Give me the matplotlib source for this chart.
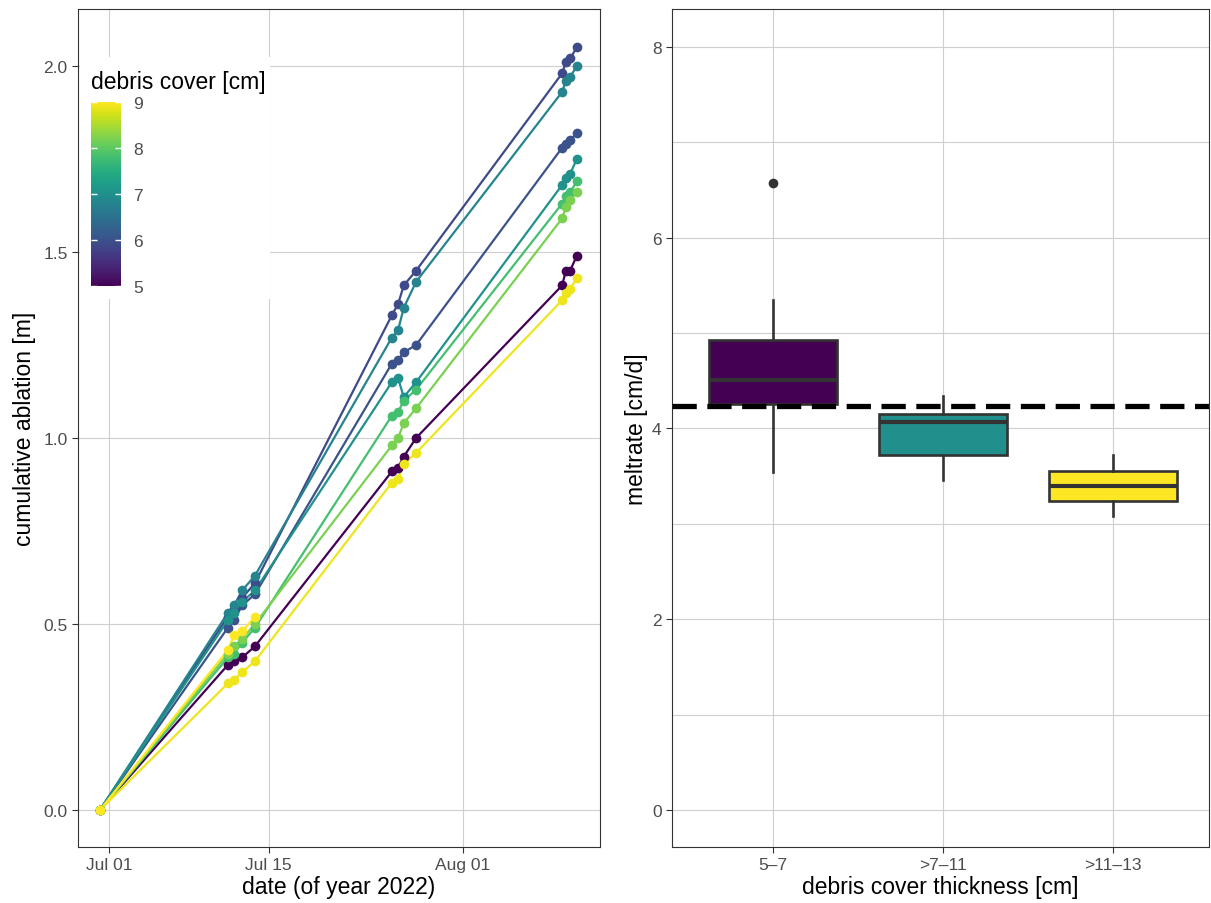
import numpy as np
import pandas as pd
import matplotlib
matplotlib.use("Agg")
import matplotlib.pyplot as plt
import matplotlib.dates as mdates
from matplotlib.colors import Normalize
from matplotlib.patches import Rectangle

plt.rcParams['font.family'] = ['Liberation Sans', 'DejaVu Sans']

# ---------------- data: left panel ----------------
times = pd.to_datetime([
    "2022-06-30 05:00",
    "2022-07-11 10:00", "2022-07-11 23:00", "2022-07-12 16:00", "2022-07-13 19:00",
    "2022-07-25 19:00", "2022-07-26 08:00", "2022-07-26 20:00", "2022-07-27 22:00",
    "2022-08-09 17:00", "2022-08-10 01:00", "2022-08-10 10:00", "2022-08-11 00:00",
])
debris_cover = [5.9, 6.8, 6.0, 7.0, 7.8, 8.2, 5.0, 9.0, 8.9]
nan = np.nan
ablation = [
    [0, 0.52, 0.54, 0.57, 0.61, 1.33, 1.36, 1.41, 1.45, 1.98, 2.01, 2.02, 2.05],
    [0, 0.53, 0.55, 0.59, 0.63, 1.27, 1.29, 1.35, 1.42, 1.93, 1.96, 1.97, 2.00],
    [0, 0.49, 0.51, 0.55, 0.58, 1.20, 1.21, 1.23, 1.25, 1.78, 1.79, 1.80, 1.82],
    [0, 0.51, 0.53, 0.56, 0.59, 1.15, 1.16, 1.11, 1.15, 1.68, 1.70, 1.71, 1.75],
    [0, 0.41, 0.42, 0.45, 0.49, 1.06, 1.07, 1.10, 1.13, 1.63, 1.65, 1.66, 1.69],
    [0, 0.42, 0.44, 0.46, 0.50, 0.98, 1.00, 1.04, 1.08, 1.59, 1.62, 1.64, 1.66],
    [0, 0.39, 0.40, 0.41, 0.44, 0.91, 0.92, 0.95, 1.00, 1.41, 1.45, 1.45, 1.49],
    [0, 0.43, 0.47, 0.48, 0.52, nan, nan, nan, nan, nan, nan, nan, nan],
    [0, 0.34, 0.35, 0.37, 0.40, 0.88, 0.89, 0.93, 0.96, 1.37, 1.39, 1.40, 1.43],
]
x_tick_dates = pd.to_datetime(["2022-07-01", "2022-07-15", "2022-08-01"])
y_ticks_left = [0.0, 0.5, 1.0, 1.5, 2.0]
cbar_ticks = [5, 6, 7, 8, 9]

# ---------------- data: right panel ----------------
categories = ["5–7", ">7–11", ">11–13"]
box_q1 = [4.26, 3.72, 3.24]
box_med = [4.51, 4.07, 3.40]
box_q3 = [4.93, 4.15, 3.55]
box_wlo = [3.54, 3.46, 3.08]
box_whi = [5.35, 4.34, 3.72]
box_outliers = [[6.57], [], []]
box_fill = ["#440154", "#21908C", "#FDE725"]
mean_meltrate = 4.23
y_ticks_right = [0, 2, 4, 6, 8]

# ---------------- figure ----------------
fig = plt.figure(figsize=(12.11, 9.04), dpi=100)
W, H = 1211, 904
def ax_rect(x0, y0, x1, y1):
    return [x0 / W, 1 - y1 / H, (x1 - x0) / W, (y1 - y0) / H]

grid_col = "#cfcfcf"
tick_col = "#4d4d4d"
border_col = "#333333"
TICK_FS = 12.5
TITLE_FS = 16.5

# ---- left panel ----
ax = fig.add_axes(ax_rect(78, 10, 600, 848))
cmap = plt.get_cmap("viridis")
norm = Normalize(5, 9)
tnum = mdates.date2num(times)
order = np.argsort(debris_cover)
for i in order:
    c = cmap(norm(debris_cover[i]))
    ax.plot(tnum, ablation[i], color=c, lw=1.6, zorder=2)
for i in order:
    c = cmap(norm(debris_cover[i]))
    ax.plot(tnum, ablation[i], 'o', color=c, ms=7, mec='none', zorder=3)

d0 = mdates.date2num(pd.Timestamp("2022-07-01"))
ax.set_xlim(d0 - 2.72, d0 + 43.03)
ax.set_ylim(-0.0995, 2.153)
ax.set_xticks(mdates.date2num(x_tick_dates))
ax.xaxis.set_major_formatter(mdates.DateFormatter("%b %d"))
ax.set_yticks(y_ticks_left)
ax.set_yticklabels([f"{v:.1f}" for v in y_ticks_left])
ax.grid(True, color=grid_col, lw=0.8, zorder=0)
ax.set_axisbelow(True)
ax.tick_params(colors="#333333", labelcolor=tick_col, labelsize=TICK_FS, length=4, width=0.8)
for s in ax.spines.values():
    s.set_color(border_col); s.set_linewidth(0.8)
ax.set_xlabel("date (of year 2022)", fontsize=TITLE_FS, labelpad=2)
ax.set_ylabel("cumulative ablation [m]", fontsize=TITLE_FS, labelpad=5)

# legend background (white) inside the panel
lx0, ly0, lx1, ly1 = 80, 58, 270, 300
bg = Rectangle(((lx0 - 78) / 522, 1 - (ly1 - 10) / 838), (lx1 - lx0) / 522, (ly1 - ly0) / 838,
               transform=ax.transAxes, facecolor="white", edgecolor="none", zorder=1)
ax.add_patch(bg)
fig.text(91 / W, 1 - 82 / H, "debris cover [cm]", fontsize=TITLE_FS, va="center", ha="left")
cax = fig.add_axes(ax_rect(91, 103, 121, 287))
grad = np.linspace(5, 9, 256).reshape(-1, 1)
cax.imshow(grad, aspect="auto", cmap=cmap, norm=norm, origin="lower", extent=[0, 1, 5, 9])
cax.set_xlim(0, 1); cax.set_ylim(5, 9)
cax.set_xticks([])
cax.yaxis.tick_right()
cax.set_yticks(cbar_ticks)
cax.tick_params(axis='y', length=0, labelsize=TICK_FS, labelcolor=tick_col, pad=9)
for s in cax.spines.values():
    s.set_visible(False)
for v in cbar_ticks:
    cax.plot([0, 0.2], [v, v], color="white", lw=1.0, solid_capstyle='butt')
    cax.plot([0.8, 1.0], [v, v], color="white", lw=1.0, solid_capstyle='butt')

# ---- right panel ----
ax2 = fig.add_axes(ax_rect(672, 10, 1209, 848))
ax2.set_xlim(-0.594, 2.565)
ax2.set_ylim(-0.388, 8.396)
ax2.set_yticks(y_ticks_right)
ax2.set_yticks([1, 3, 5, 7], minor=True)
ax2.set_xticks(range(len(categories)))
ax2.set_xticklabels(categories)
ax2.grid(True, which="major", color=grid_col, lw=0.8, zorder=0)
ax2.grid(True, which="minor", axis="y", color=grid_col, lw=0.8, zorder=0)
ax2.tick_params(which="minor", length=0)
ax2.set_axisbelow(True)
stats = []
for k in range(len(categories)):
    stats.append(dict(med=box_med[k], q1=box_q1[k], q3=box_q3[k],
                      whislo=box_wlo[k], whishi=box_whi[k], fliers=box_outliers[k]))
bp = ax2.bxp(stats, positions=range(len(categories)), widths=0.75, patch_artist=True,
             showfliers=True, manage_ticks=False,
             boxprops=dict(edgecolor=border_col, linewidth=1.9),
             medianprops=dict(color=border_col, linewidth=3.0),
             whiskerprops=dict(color=border_col, linewidth=1.9),
             capprops=dict(linewidth=0),
             flierprops=dict(marker='o', markerfacecolor=border_col, markeredgecolor='none',
                             markersize=7))
for patch, fc in zip(bp['boxes'], box_fill):
    patch.set_facecolor(fc)
ax2.axhline(mean_meltrate, color="black", lw=3.8, ls=(0, (4.6, 2.0)), zorder=5)
ax2.tick_params(colors="#333333", labelcolor=tick_col, labelsize=TICK_FS, length=4, width=0.8)
for s in ax2.spines.values():
    s.set_color(border_col); s.set_linewidth(0.8)
ax2.set_xlabel("debris cover thickness [cm]", fontsize=TITLE_FS, labelpad=2)
ax2.set_ylabel("meltrate [cm/d]", fontsize=TITLE_FS, labelpad=3)

fig.savefig("out.png", dpi=100)
